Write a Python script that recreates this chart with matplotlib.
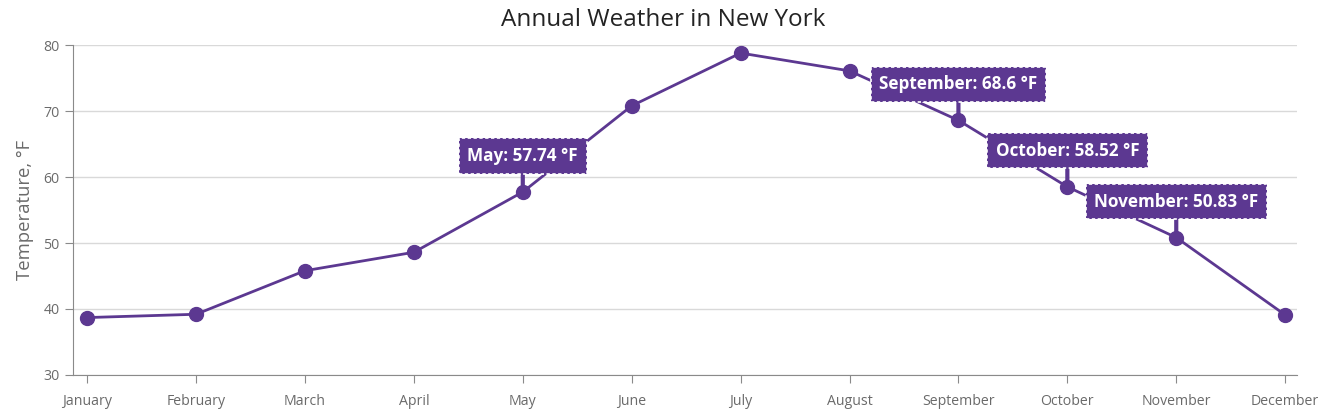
import matplotlib.pyplot as plt

months = ["January", "February", "March", "April", "May", "June", "July",
          "August", "September", "October", "November", "December"]
temps = [38.7, 39.2, 45.8, 48.6, 57.74, 70.8, 78.8, 76.1, 68.6, 58.52, 50.83, 39.1]
labeled = ["May", "September", "October", "November"]

purple = "#5c3891"
plt.rcParams["font.family"] = ["Open Sans", "DejaVu Sans"]

fig = plt.figure(figsize=(13.27, 4.18), dpi=100)
ax = fig.add_axes([0.055, 0.103, 0.9225, 0.789])

x = list(range(len(months)))
ax.plot(x, temps, color=purple, lw=2, marker="o", ms=10, zorder=3)

for i, m in enumerate(months):
    if m in labeled:
        ax.annotate(f"{m}: {temps[i]} °F", xy=(i, temps[i]), xytext=(0, 36),
                    textcoords="offset pixels", ha="center", va="center",
                    fontsize=12.3, fontweight="bold", color="white", zorder=5,
                    bbox=dict(boxstyle="square,pad=0.5", fc=purple, ec="white",
                              ls=(0, (2, 1.5)), lw=1.2),
                    arrowprops=dict(arrowstyle="-", color=purple, lw=3,
                                    shrinkA=0, shrinkB=0))

ax.set_xlim(-0.13, 11.11)
ax.set_ylim(30, 80)
ax.set_yticks([30, 40, 50, 60, 70, 80])
ax.set_xticks(x)
ax.set_xticklabels(months)
ax.grid(axis="y", color="#d9d9d9", lw=1)
ax.set_axisbelow(True)
for s in ["top", "right"]:
    ax.spines[s].set_visible(False)
for s in ["left", "bottom"]:
    ax.spines[s].set_color("#8a8a8a")
ax.tick_params(colors="#8a8a8a", labelcolor="#6a6a6a", labelsize=10.2, length=6)
ax.tick_params(axis="x", pad=8)
ax.set_ylabel("Temperature, °F", fontsize=13.3, color="#6a6a6a", labelpad=7)
fig.suptitle("Annual Weather in New York", fontsize=17.5, color="#232323", y=0.982)

plt.savefig("out.png")
